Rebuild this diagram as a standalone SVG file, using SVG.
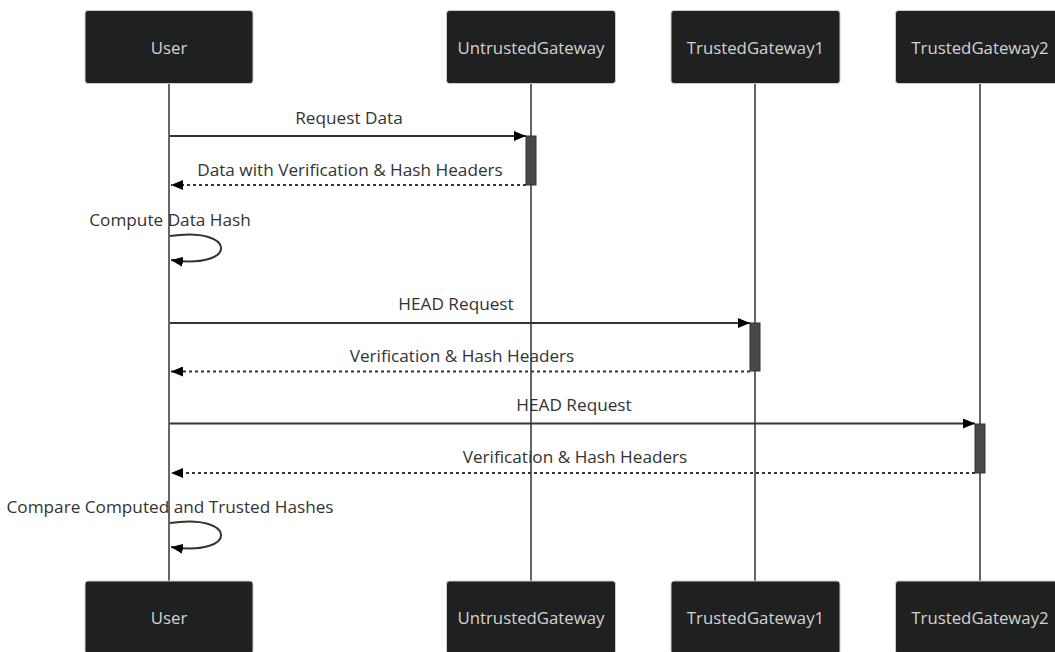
<svg xmlns="http://www.w3.org/2000/svg" width="1055" height="652" viewBox="0 0 1055 652">
<defs>
<style>
.actor rect{fill:#1f2020;stroke:#cccccc;stroke-width:1}
.actor text{fill:#d3d3d3;font-family:"Open Sans","Liberation Sans",sans-serif;font-size:16.8px;text-anchor:middle;dominant-baseline:central}
.life{stroke:#333;stroke-width:1.5}
.msg{stroke:#333;stroke-width:2;fill:none}
.dash{stroke-dasharray:3,3}
.lbl{fill:#333;font-family:"Open Sans","Liberation Sans",sans-serif;font-size:17.2px;text-anchor:middle}
.act{fill:#474949;stroke:#333;stroke-width:1}
</style>
<marker id="arrow" viewBox="0 0 12 10" refX="12" refY="5" markerWidth="12" markerHeight="10" markerUnits="userSpaceOnUse" orient="auto">
<path d="M0,0 L12,5 L0,10 z" fill="#000"/>
</marker>
</defs>
<rect width="1055" height="652" fill="#fff"/>
<g id="lifelines">
<line class="life" x1="169" y1="84" x2="169" y2="581"/>
<line class="life" x1="531" y1="84" x2="531" y2="581"/>
<line class="life" x1="755" y1="84" x2="755" y2="581"/>
<line class="life" x1="980" y1="84" x2="980" y2="581"/>
</g>
<g id="actor-user-top" class="actor"><rect x="85" y="10.5" width="168" height="73" rx="3"/><text x="169" y="47">User</text></g>
<g id="actor-untrusted-top" class="actor"><rect x="446.5" y="10.5" width="169" height="73" rx="3"/><text x="531" y="47">UntrustedGateway</text></g>
<g id="actor-trusted1-top" class="actor"><rect x="671" y="10.5" width="169" height="73" rx="3"/><text x="755.5" y="47">TrustedGateway1</text></g>
<g id="actor-trusted2-top" class="actor"><rect x="895.5" y="10.5" width="169" height="73" rx="3"/><text x="980" y="47">TrustedGateway2</text></g>
<g id="actor-user-bottom" class="actor"><rect x="85" y="581" width="168" height="73" rx="3"/><text x="169" y="617.5">User</text></g>
<g id="actor-untrusted-bottom" class="actor"><rect x="446.5" y="581" width="169" height="73" rx="3"/><text x="531" y="617.5">UntrustedGateway</text></g>
<g id="actor-trusted1-bottom" class="actor"><rect x="671" y="581" width="169" height="73" rx="3"/><text x="755.5" y="617.5">TrustedGateway1</text></g>
<g id="actor-trusted2-bottom" class="actor"><rect x="895.5" y="581" width="169" height="73" rx="3"/><text x="980" y="617.5">TrustedGateway2</text></g>
<g id="activations">
<rect class="act" x="526" y="136" width="10" height="49"/>
<rect class="act" x="750" y="323" width="10" height="48"/>
<rect class="act" x="975" y="424" width="10" height="49"/>
</g>
<g id="connectors">
<line class="msg" x1="170" y1="136" x2="526" y2="136" marker-end="url(#arrow)"/>
<line class="msg dash" x1="526" y1="185" x2="171" y2="185" marker-end="url(#arrow)"/>
<path class="msg" d="M170,236 C238,226 238,270 171,260" marker-end="url(#arrow)"/>
<line class="msg" x1="170" y1="323" x2="750" y2="323" marker-end="url(#arrow)"/>
<line class="msg dash" x1="750" y1="371.5" x2="171" y2="371.5" marker-end="url(#arrow)"/>
<line class="msg" x1="170" y1="423.5" x2="975" y2="423.5" marker-end="url(#arrow)"/>
<line class="msg dash" x1="975" y1="473" x2="171" y2="473" marker-end="url(#arrow)"/>
<path class="msg" d="M170,523 C238,513 238,557 171,547" marker-end="url(#arrow)"/>
</g>
<g id="labels">
<text class="lbl" x="349" y="124">Request Data</text>
<text class="lbl" x="350" y="176">Data with Verification &amp; Hash Headers</text>
<text class="lbl" x="170" y="226">Compute Data Hash</text>
<text class="lbl" x="456" y="310">HEAD Request</text>
<text class="lbl" x="462" y="362">Verification &amp; Hash Headers</text>
<text class="lbl" x="574" y="411">HEAD Request</text>
<text class="lbl" x="575" y="463">Verification &amp; Hash Headers</text>
<text class="lbl" x="170" y="513">Compare Computed and Trusted Hashes</text>
</g>
</svg>
